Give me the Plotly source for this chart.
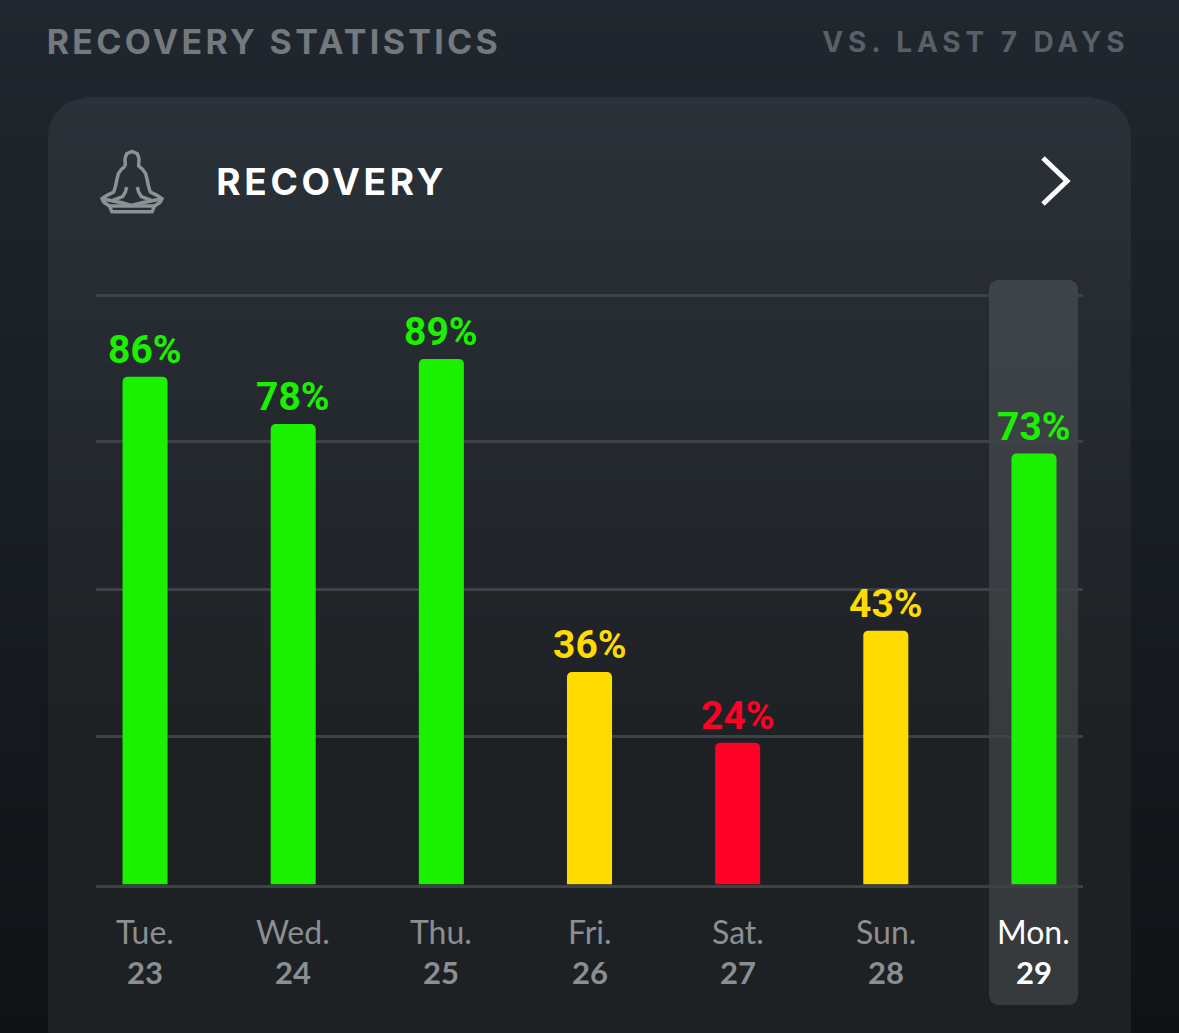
import plotly.graph_objects as go

# values
dias = ["Tue.", "Wed.", "Thu.", "Fri.", "Sat.", "Sun.", "Mon."]
numeros = ["23", "24", "25", "26", "27", "28", "29"]
recovery = [86, 78, 89, 36, 24, 43, 73]
colores = ["#1bf000", "#1bf000", "#1bf000", "#ffdb00", "#ff0026", "#ffdb00", "#1bf000"]
colores_dia = ["#8b8f93", "#8b8f93", "#8b8f93", "#8b8f93", "#8b8f93", "#8b8f93", "#ffffff"]

W, H = 1179, 1033


def px(x):
    return x / W


def py(y):
    return 1 - y / H


def ruta(puntos):
    # puntos en pixeles de la pantalla, y hacia abajo
    return "M" + " L".join(f"{px(x):.5f},{py(y):.5f}" for x, y in puntos) + " Z"


def mezcla(a, b, t):
    return "rgb(" + ",".join(str(round(a[i] + (b[i] - a[i]) * t)) for i in range(3)) + ")"


def inset_card(y, top=97, bottom=1068, r=40):
    if y < top + r:
        d = top + r - y
    elif y > bottom - r:
        d = y - (bottom - r)
    else:
        return 0
    d = min(d, r)
    return r - (r * r - d * d) ** 0.5


shapes = []
# fondo en degradado
paso = 4
for y in range(0, H, paso):
    shapes.append(dict(type="rect", xref="paper", yref="paper", x0=0, x1=1,
                       y0=py(y + paso + 1), y1=py(y), line_width=0, layer="below",
                       fillcolor=mezcla((32, 39, 46), (16, 19, 22), y / H)))
# tarjeta
for y in range(97, H, paso):
    a, b = inset_card(y), inset_card(y + paso + 1)
    shapes.append(dict(type="path", xref="paper", yref="paper", line_width=0, layer="below",
                       path=ruta([(48 + a, y), (1131 - a, y), (1131 - b, y + paso + 1), (48 + b, y + paso + 1)]),
                       fillcolor=mezcla((42, 49, 56), (30, 33, 36), min(1, (y - 97) / 650))))

# columna resaltada de Mon.
hl = []
x0, x1, y0, y1, r = 989, 1078, 280, 1005, 8
for (cx, cy, sx, sy) in [(x0 + r, y0 + r, -1, -1), (x1 - r, y0 + r, 1, -1), (x1 - r, y1 - r, 1, 1), (x0 + r, y1 - r, -1, 1)]:
    hl.append((cx + sx * r * 0.7, cy + sy * r * 0.7))
    if sx * sy < 0:
        hl.insert(-1, (cx, cy + sy * r))
        hl.append((cx + sx * r, cy))
    else:
        hl.insert(-1, (cx + sx * r, cy))
        hl.append((cx, cy + sy * r))
shapes.append(dict(type="path", xref="paper", yref="paper", line_width=0, layer="below",
                   path=ruta(hl), fillcolor="rgba(255,255,255,0.115)"))

# chevron
shapes.append(dict(type="path", xref="paper", yref="paper", layer="above",
                   path=f"M{px(1043)},{py(158)} L{px(1067)},{py(181)} L{px(1043)},{py(204)}",
                   line=dict(color="#ffffff", width=5)))

# icono de meditacion, medido en el recorte ampliado 3x
icono = [
    [(100, 72), (99, 50), (104, 35), (120, 28), (136, 35), (141, 50), (140, 72), (152, 82), (161, 95), (166, 115),
     (170, 135), (175, 150), (195, 160), (210, 170), (205, 180), (188, 192), (180, 209), (60, 209), (52, 192),
     (35, 180), (30, 170), (45, 160), (65, 150), (70, 135), (74, 115), (79, 95), (88, 82), (100, 72)],
    [(30, 170), (60, 176), (90, 182), (118, 190), (150, 182), (180, 176), (210, 170)],
    [(104, 135), (100, 150), (92, 164), (60, 176)],
    [(136, 135), (140, 150), (148, 164), (180, 176)],
    [(52, 192), (188, 192)],
]
for trazo in icono:
    shapes.append(dict(type="path", xref="paper", yref="paper", layer="above",
                       path="M" + " L".join(f"{px(92 + x / 3):.5f},{py(142 + y / 3):.5f}" for x, y in trazo),
                       line=dict(color="#8d9295", width=3.5)))

fig = go.Figure(go.Bar(
    x=dias, y=recovery, marker=dict(color=colores, cornerradius=5, line_width=0),
    width=0.304, hoverinfo="skip", showlegend=False,
))

anotaciones = [
    dict(text="<b>RECOVERY STATISTICS</b>", x=px(274), y=py(41),
         font=dict(family="Inter", size=34, color="#74797d")),
    dict(text="<b>VS. LAST 7 DAYS</b>", x=px(976), y=py(42),
         font=dict(family="Inter", size=28, color="#5a6066")),
    dict(text="<b>RECOVERY</b>", x=px(332), y=py(182),
         font=dict(family="Inter", size=37, color="#ffffff")),
]
for a in anotaciones:
    a.update(xref="paper", yref="paper", xanchor="center", yanchor="middle", showarrow=False)

for i, dia in enumerate(dias):
    # porcentaje encima de la barra
    anotaciones.append(dict(text=f"<b>{recovery[i]}%</b>", x=dia, y=recovery[i], xref="x", yref="y",
                            yanchor="bottom", yshift=2, showarrow=False,
                            font=dict(family="Roboto", size=39, color=colores[i])))
    anotaciones.append(dict(text=dia, x=dia, y=py(931), xref="x", yref="paper", yanchor="middle",
                            showarrow=False, font=dict(family="Lato", size=32, color=colores_dia[i])))
    anotaciones.append(dict(text=f"<b>{numeros[i]}</b>", x=dia, y=py(972), xref="x", yref="paper",
                            yanchor="middle", showarrow=False,
                            font=dict(family="Lato", size=31, color=colores_dia[i])))

fig.update_layout(
    width=W, height=H, margin=dict(l=0, r=0, t=0, b=0),
    paper_bgcolor="#1b2127", plot_bgcolor="rgba(0,0,0,0)",
    shapes=shapes, annotations=anotaciones, showlegend=False,
    xaxis=dict(domain=[px(96), px(1083)], range=[-0.331, 6.331], showticklabels=False,
               showgrid=False, zeroline=False, ticks="",
               showline=True, mirror=True, linecolor="#3d4248", linewidth=3),
    yaxis=dict(domain=[py(884.5), py(296.5)], range=[0, 99.6], tickvals=[25, 50, 75],
               showticklabels=False, gridcolor="#3d4248", gridwidth=3, zeroline=False, ticks=""),
)

# plotly no tiene letter-spacing, se aplica a los tres titulos despues de dibujar
post = """
document.body.style.margin='0';document.body.style.overflow='hidden';
var espacios={'RECOVERY STATISTICS':'3.3px','VS. LAST 7 DAYS':'4.9px','RECOVERY':'3.7px'};
document.querySelectorAll('.annotation-text').forEach(function(t){
  var e=espacios[t.textContent]; if(e){t.style.letterSpacing=e;}
});
"""
fig.write_html("out.html", config={"displayModeBar": False}, post_script=post)
